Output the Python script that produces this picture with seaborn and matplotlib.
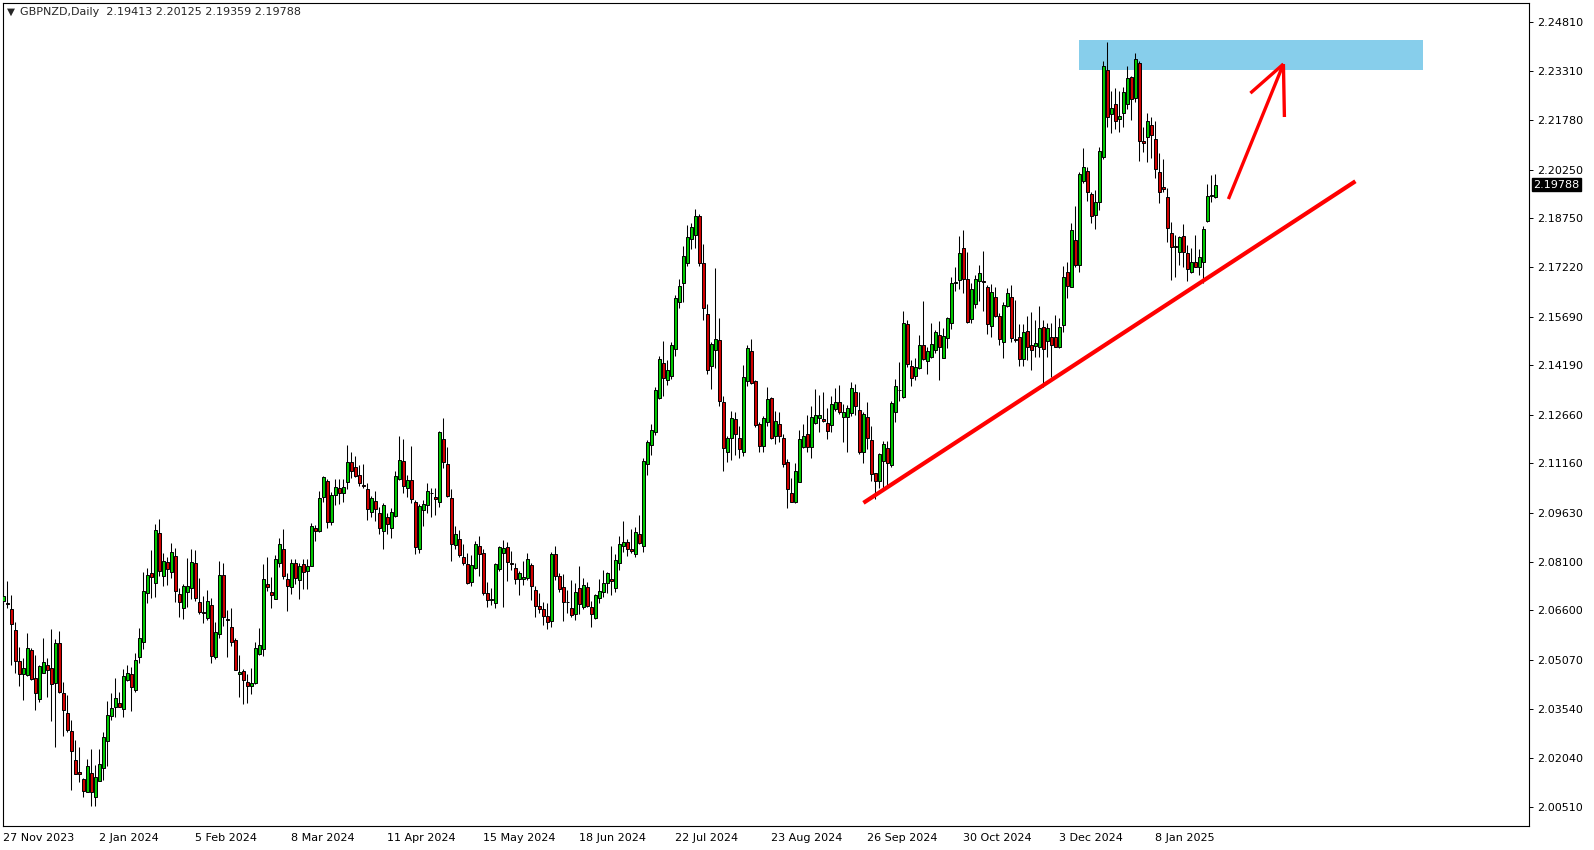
import matplotlib
matplotlib.use("Agg")
import matplotlib.pyplot as plt
import matplotlib.transforms as mtransforms
from matplotlib.patches import Rectangle
import numpy as np
import seaborn as sns

sns.set_style("white")
plt.rcParams["font.family"] = ["DejaVu Sans"]

SYMBOL = "GBPNZD,Daily"

# daily OHLC, one value per bar, oldest first
bar_open = [
    2.0690, 2.0682, 2.0663, 2.0599, 2.0503, 2.0464, 2.0459, 2.0537, 2.0451, 2.0384,
    2.0465, 2.0490, 2.0481, 2.0434, 2.0558, 2.0403, 2.0341, 2.0287, 2.0197, 2.0159,
    2.0137, 2.0097, 2.0156, 2.0081, 2.0132, 2.0171, 2.0255, 2.0334, 2.0361, 2.0374,
    2.0354, 2.0444, 2.0462, 2.0412, 2.0515, 2.0563, 2.0713, 2.0775, 2.0744, 2.0899,
    2.0768, 2.0809, 2.0778, 2.0828, 2.0710, 2.0666, 2.0716, 2.0728, 2.0807, 2.0685,
    2.0654, 2.0635, 2.0676, 2.0515, 2.0586, 2.0769, 2.0632, 2.0609, 2.0567, 2.0462,
    2.0472, 2.0438, 2.0425, 2.0434, 2.0526, 2.0540, 2.0741, 2.0717, 2.0696, 2.0806,
    2.0849, 2.0756, 2.0732, 2.0806, 2.0755, 2.0803, 2.0781, 2.0797, 2.0914, 2.0907,
    2.1010, 2.1061, 2.0933, 2.1016, 2.1038, 2.1023, 2.1057, 2.1119, 2.1103, 2.1078,
    2.1048, 2.1035, 2.0964, 2.0998, 2.0961, 2.0905, 2.0948, 2.0914, 2.0952, 2.1066,
    2.1122, 2.1038, 2.1064, 2.0995, 2.0849, 2.0971, 2.0987, 2.1025, 2.1010, 2.0995,
    2.1190, 2.1112, 2.1007, 2.0861, 2.0880, 2.0825, 2.0803, 2.0748, 2.0790, 2.0859,
    2.0837, 2.0713, 2.0693, 2.0682, 2.0789, 2.0839, 2.0856, 2.0808, 2.0790, 2.0756,
    2.0756, 2.0760, 2.0801, 2.0722, 2.0674, 2.0664, 2.0642, 2.0626, 2.0834, 2.0767,
    2.0732, 2.0687, 2.0667, 2.0648, 2.0729, 2.0670, 2.0732, 2.0670, 2.0636, 2.0698,
    2.0716, 2.0746, 2.0756, 2.0729, 2.0806, 2.0860, 2.0871, 2.0849, 2.0834, 2.0897,
    2.0858, 2.1113, 2.1171, 2.1211, 2.1319, 2.1425, 2.1374, 2.1387, 2.1468, 2.1616,
    2.1675, 2.1735, 2.1809, 2.1822, 2.1882, 2.1735, 2.1577, 2.1418, 2.1465, 2.1498,
    2.1305, 2.1149, 2.1195, 2.1252, 2.1193, 2.1149, 2.1371, 2.1463, 2.1371, 2.1237,
    2.1170, 2.1243, 2.1317, 2.1201, 2.1237, 2.1193, 2.1119, 2.1023, 2.0995, 2.1059,
    2.1167, 2.1205, 2.1167, 2.1240, 2.1257, 2.1252, 2.1240, 2.1234, 2.1284, 2.1305,
    2.1258, 2.1258, 2.1271, 2.1336, 2.1281, 2.1150, 2.1258, 2.1188, 2.1085, 2.1061,
    2.1123, 2.1164, 2.1109, 2.1274, 2.1341, 2.1320, 2.1546, 2.1417, 2.1387, 2.1412,
    2.1482, 2.1431, 2.1446, 2.1467, 2.1512, 2.1443, 2.1503, 2.1549, 2.1675, 2.1683,
    2.1781, 2.1687, 2.1562, 2.1609, 2.1680, 2.1680, 2.1661, 2.1541, 2.1630, 2.1572,
    2.1492, 2.1603, 2.1630, 2.1500, 2.1506, 2.1438, 2.1525, 2.1482, 2.1479, 2.1475,
    2.1539, 2.1495, 2.1508, 2.1506, 2.1477, 2.1544, 2.1707, 2.1663, 2.1807, 2.1730,
    2.1991, 2.2022, 2.1949, 2.1883, 2.1924, 2.2063, 2.2334, 2.2196, 2.2227, 2.2181,
    2.2200, 2.2228, 2.2311, 2.2246, 2.2354, 2.2114, 2.2125, 2.2163, 2.2120, 2.2017,
    2.1970, 2.1939, 2.1828, 2.1786, 2.1769, 2.1821, 2.1766, 2.1709, 2.1738, 2.1725,
    2.1740, 2.1867, 2.1944, 2.19413,
]

bar_high = [
    2.0787, 2.0751, 2.0708, 2.0625, 2.0546, 2.0512, 2.0590, 2.0544, 2.0522, 2.0491,
    2.0575, 2.0512, 2.0603, 2.0571, 2.0596, 2.0437, 2.0398, 2.0321, 2.0259, 2.0237,
    2.0140, 2.0200, 2.0230, 2.0181, 2.0230, 2.0282, 2.0379, 2.0403, 2.0452, 2.0408,
    2.0478, 2.0491, 2.0486, 2.0528, 2.0606, 2.0778, 2.0791, 2.0847, 2.0929, 2.0943,
    2.0839, 2.0826, 2.0869, 2.0853, 2.0730, 2.0742, 2.0821, 2.0850, 2.0847, 2.0761,
    2.0705, 2.0723, 2.0699, 2.0624, 2.0813, 2.0806, 2.0661, 2.0666, 2.0574, 2.0522,
    2.0479, 2.0463, 2.0481, 2.0563, 2.0605, 2.0804, 2.0825, 2.0762, 2.0830, 2.0883,
    2.0911, 2.0775, 2.0819, 2.0818, 2.0807, 2.0818, 2.0818, 2.0930, 2.0925, 2.1030,
    2.1076, 2.1066, 2.1028, 2.1067, 2.1067, 2.1066, 2.1172, 2.1151, 2.1138, 2.1110,
    2.1113, 2.1054, 2.1014, 2.1030, 2.0979, 2.0994, 2.0963, 2.0976, 2.1093, 2.1200,
    2.1190, 2.1079, 2.1169, 2.1002, 2.0990, 2.1002, 2.1054, 2.1038, 2.1038, 2.1215,
    2.1256, 2.1166, 2.1036, 2.0922, 2.0909, 2.0866, 2.0837, 2.0832, 2.0875, 2.0891,
    2.0850, 2.0748, 2.0729, 2.0808, 2.0860, 2.0878, 2.0871, 2.0844, 2.0806, 2.0782,
    2.0813, 2.0838, 2.0806, 2.0734, 2.0715, 2.0686, 2.0682, 2.0842, 2.0858, 2.0775,
    2.0773, 2.0723, 2.0755, 2.0746, 2.0798, 2.0760, 2.0749, 2.0690, 2.0711, 2.0758,
    2.0786, 2.0780, 2.0858, 2.0835, 2.0891, 2.0937, 2.0881, 2.0911, 2.0918, 2.0956,
    2.1131, 2.1188, 2.1238, 2.1351, 2.1448, 2.1495, 2.1434, 2.1492, 2.1637, 2.1687,
    2.1787, 2.1854, 2.1859, 2.1903, 2.1888, 2.1795, 2.1609, 2.1492, 2.1720, 2.1565,
    2.1324, 2.1200, 2.1278, 2.1275, 2.1231, 2.1420, 2.1482, 2.1501, 2.1374, 2.1242,
    2.1262, 2.1351, 2.1322, 2.1278, 2.1274, 2.1207, 2.1129, 2.1069, 2.1116, 2.1219,
    2.1236, 2.1264, 2.1293, 2.1346, 2.1326, 2.1337, 2.1286, 2.1324, 2.1349, 2.1358,
    2.1298, 2.1295, 2.1367, 2.1361, 2.1336, 2.1273, 2.1305, 2.1232, 2.1087, 2.1147,
    2.1186, 2.1185, 2.1309, 2.1377, 2.1428, 2.1587, 2.1560, 2.1436, 2.1441, 2.1513,
    2.1619, 2.1477, 2.1551, 2.1529, 2.1557, 2.1534, 2.1568, 2.1692, 2.1725, 2.1818,
    2.1838, 2.1771, 2.1673, 2.1699, 2.1730, 2.1773, 2.1668, 2.1670, 2.1663, 2.1580,
    2.1616, 2.1658, 2.1668, 2.1621, 2.1547, 2.1547, 2.1572, 2.1585, 2.1560, 2.1604,
    2.1560, 2.1549, 2.1551, 2.1575, 2.1565, 2.1727, 2.1740, 2.1861, 2.1912, 2.2019,
    2.2091, 2.2034, 2.1957, 2.1962, 2.2096, 2.2360, 2.2421, 2.2269, 2.2279, 2.2269,
    2.2280, 2.2346, 2.2315, 2.2387, 2.2361, 2.2158, 2.2200, 2.2187, 2.2176, 2.2076,
    2.2058, 2.1967, 2.1862, 2.1823, 2.1821, 2.1857, 2.1792, 2.1782, 2.1823, 2.1778,
    2.1849, 2.1981, 2.2007, 2.20125,
]

bar_low = [
    2.0677, 2.0667, 2.0491, 2.0467, 2.0427, 2.0381, 2.0457, 2.0445, 2.0353, 2.0377,
    2.0465, 2.0391, 2.0316, 2.0238, 2.0405, 2.0272, 2.0284, 2.0103, 2.0152, 2.0128,
    2.0081, 2.0096, 2.0053, 2.0053, 2.0131, 2.0135, 2.0178, 2.0321, 2.0331, 2.0362,
    2.0329, 2.0442, 2.0347, 2.0408, 2.0498, 2.0541, 2.0682, 2.0697, 2.0701, 2.0765,
    2.0734, 2.0740, 2.0761, 2.0687, 2.0638, 2.0632, 2.0672, 2.0694, 2.0689, 2.0648,
    2.0622, 2.0631, 2.0498, 2.0509, 2.0574, 2.0613, 2.0517, 2.0551, 2.0474, 2.0393,
    2.0369, 2.0372, 2.0400, 2.0432, 2.0523, 2.0520, 2.0721, 2.0668, 2.0694, 2.0793,
    2.0757, 2.0659, 2.0710, 2.0741, 2.0695, 2.0727, 2.0725, 2.0796, 2.0876, 2.0904,
    2.0996, 2.0914, 2.0923, 2.0987, 2.0989, 2.0997, 2.1035, 2.1069, 2.1072, 2.1046,
    2.1038, 2.0940, 2.0950, 2.0938, 2.0897, 2.0851, 2.0898, 2.0885, 2.0950, 2.1064,
    2.1025, 2.1010, 2.0992, 2.0834, 2.0837, 2.0920, 2.0961, 2.0948, 2.0954, 2.0981,
    2.1102, 2.1012, 2.0814, 2.0849, 2.0826, 2.0799, 2.0742, 2.0736, 2.0787, 2.0767,
    2.0709, 2.0670, 2.0676, 2.0666, 2.0783, 2.0672, 2.0751, 2.0785, 2.0742, 2.0708,
    2.0739, 2.0754, 2.0692, 2.0641, 2.0651, 2.0615, 2.0602, 2.0607, 2.0754, 2.0718,
    2.0628, 2.0651, 2.0641, 2.0629, 2.0649, 2.0664, 2.0670, 2.0607, 2.0634, 2.0684,
    2.0701, 2.0715, 2.0708, 2.0718, 2.0784, 2.0842, 2.0827, 2.0839, 2.0824, 2.0865,
    2.0842, 2.1080, 2.1140, 2.1204, 2.1315, 2.1324, 2.1358, 2.1378, 2.1449, 2.1596,
    2.1616, 2.1727, 2.1780, 2.1781, 2.1728, 2.1558, 2.1393, 2.1347, 2.1412, 2.1294,
    2.1092, 2.1118, 2.1126, 2.1142, 2.1133, 2.1139, 2.1356, 2.1360, 2.1229, 2.1150,
    2.1152, 2.1231, 2.1191, 2.1176, 2.1183, 2.1105, 2.0976, 2.0995, 2.0992, 2.1057,
    2.1163, 2.1152, 2.1133, 2.1236, 2.1211, 2.1242, 2.1190, 2.1211, 2.1279, 2.1268,
    2.1180, 2.1149, 2.1262, 2.1265, 2.1145, 2.1116, 2.1159, 2.1061, 2.1004, 2.1040,
    2.1040, 2.1038, 2.1103, 2.1242, 2.1307, 2.1317, 2.1415, 2.1356, 2.1375, 2.1407,
    2.1436, 2.1391, 2.1443, 2.1458, 2.1374, 2.1441, 2.1472, 2.1531, 2.1649, 2.1654,
    2.1644, 2.1551, 2.1549, 2.1598, 2.1618, 2.1588, 2.1516, 2.1508, 2.1570, 2.1482,
    2.1443, 2.1601, 2.1492, 2.1490, 2.1418, 2.1418, 2.1436, 2.1403, 2.1446, 2.1446,
    2.1353, 2.1446, 2.1384, 2.1477, 2.1472, 2.1523, 2.1629, 2.1661, 2.1723, 2.1709,
    2.1985, 2.1928, 2.1859, 2.1840, 2.1900, 2.2058, 2.2156, 2.2140, 2.2151, 2.2143,
    2.2158, 2.2213, 2.2179, 2.2236, 2.2053, 2.2081, 2.2050, 2.2062, 2.1998, 2.1921,
    2.1957, 2.1802, 2.1684, 2.1692, 2.1730, 2.1725, 2.1681, 2.1706, 2.1723, 2.1699,
    2.1673, 2.1864, 2.1926, 2.19359,
]

bar_close = [
    2.0703, 2.0680, 2.0617, 2.0504, 2.0462, 2.0481, 2.0543, 2.0447, 2.0403, 2.0488,
    2.0499, 2.0476, 2.0431, 2.0558, 2.0406, 2.0351, 2.0288, 2.0224, 2.0153, 2.0153,
    2.0100, 2.0177, 2.0097, 2.0143, 2.0184, 2.0267, 2.0336, 2.0357, 2.0388, 2.0362,
    2.0457, 2.0465, 2.0424, 2.0507, 2.0573, 2.0720, 2.0770, 2.0762, 2.0909, 2.0782,
    2.0813, 2.0787, 2.0840, 2.0719, 2.0687, 2.0735, 2.0736, 2.0810, 2.0697, 2.0654,
    2.0651, 2.0688, 2.0520, 2.0592, 2.0769, 2.0641, 2.0629, 2.0563, 2.0475, 2.0468,
    2.0444, 2.0427, 2.0434, 2.0543, 2.0553, 2.0756, 2.0732, 2.0709, 2.0818, 2.0865,
    2.0765, 2.0734, 2.0806, 2.0760, 2.0797, 2.0778, 2.0797, 2.0922, 2.0905, 2.1007,
    2.1072, 2.0933, 2.1016, 2.1041, 2.1023, 2.1041, 2.1119, 2.1091, 2.1075, 2.1056,
    2.1046, 2.0973, 2.1007, 2.0973, 2.0914, 2.0986, 2.0926, 2.0964, 2.1075, 2.1125,
    2.1044, 2.1064, 2.1004, 2.0856, 2.0982, 2.0989, 2.1029, 2.1023, 2.1006, 2.1213,
    2.1118, 2.1015, 2.0865, 2.0896, 2.0832, 2.0808, 2.0746, 2.0801, 2.0865, 2.0834,
    2.0715, 2.0691, 2.0696, 2.0803, 2.0856, 2.0852, 2.0811, 2.0803, 2.0756, 2.0775,
    2.0763, 2.0818, 2.0734, 2.0675, 2.0665, 2.0644, 2.0623, 2.0835, 2.0768, 2.0726,
    2.0685, 2.0686, 2.0646, 2.0716, 2.0679, 2.0738, 2.0674, 2.0648, 2.0707, 2.0720,
    2.0744, 2.0775, 2.0752, 2.0817, 2.0865, 2.0871, 2.0850, 2.0844, 2.0902, 2.0868,
    2.1123, 2.1181, 2.1219, 2.1343, 2.1438, 2.1379, 2.1404, 2.1482, 2.1627, 2.1664,
    2.1757, 2.1817, 2.1846, 2.1882, 2.1735, 2.1596, 2.1404, 2.1485, 2.1500, 2.1310,
    2.1164, 2.1193, 2.1255, 2.1205, 2.1159, 2.1382, 2.1472, 2.1363, 2.1234, 2.1170,
    2.1255, 2.1315, 2.1193, 2.1245, 2.1201, 2.1114, 2.1035, 2.0997, 2.1092, 2.1190,
    2.1201, 2.1167, 2.1258, 2.1266, 2.1264, 2.1245, 2.1217, 2.1298, 2.1305, 2.1274,
    2.1274, 2.1286, 2.1348, 2.1294, 2.1152, 2.1269, 2.1193, 2.1082, 2.1061, 2.1144,
    2.1175, 2.1116, 2.1303, 2.1355, 2.1343, 2.1549, 2.1422, 2.1379, 2.1414, 2.1482,
    2.1438, 2.1464, 2.1485, 2.1521, 2.1477, 2.1509, 2.1565, 2.1673, 2.1677, 2.1766,
    2.1685, 2.1552, 2.1654, 2.1685, 2.1704, 2.1677, 2.1546, 2.1645, 2.1572, 2.1500,
    2.1606, 2.1642, 2.1503, 2.1496, 2.1438, 2.1521, 2.1475, 2.1465, 2.1487, 2.1534,
    2.1469, 2.1534, 2.1482, 2.1477, 2.1537, 2.1694, 2.1666, 2.1838, 2.1730, 2.2012,
    2.2032, 2.1957, 2.1880, 2.1924, 2.2084, 2.2346, 2.2189, 2.2215, 2.2177, 2.2191,
    2.2264, 2.2308, 2.2243, 2.2367, 2.2115, 2.2107, 2.2176, 2.2131, 2.2026, 2.1955,
    2.1964, 2.1844, 2.1785, 2.1789, 2.1816, 2.1771, 2.1718, 2.1738, 2.1725, 2.1754,
    2.1841, 2.1944, 2.1947, 2.19788,
]

# time axis labels, one every 24 bars
date_labels = [
    "27 Nov 2023", "2 Jan 2024", "5 Feb 2024", "8 Mar 2024", "11 Apr 2024",
    "15 May 2024", "18 Jun 2024", "22 Jul 2024", "23 Aug 2024", "26 Sep 2024",
    "30 Oct 2024", "3 Dec 2024", "8 Jan 2025",
]
LABEL_STEP = 24

price_ticks = [
    2.24810, 2.23310, 2.21780, 2.20250, 2.18750, 2.17220, 2.15690, 2.14190,
    2.12660, 2.11160, 2.09630, 2.08100, 2.06600, 2.05070, 2.03540, 2.02040, 2.00510,
]

# drawn objects: (bar, price)
zone_bars = (268.9, 354.8)
zone_prices = (2.2334, 2.2427)
trend_start = (215.0, 2.0993)
trend_end = (338.0, 2.1989)
arrow_tail = (306.25, 2.1934)
arrow_tip = (320.0, 2.2352)
arrow_barb_left = (311.75, 2.2262)
arrow_barb_down = (320.25, 2.2188)

BULL = "#00c800"
BEAR = "#d00000"

W, H = 1594, 850
fig = plt.figure(figsize=(W / 100, H / 100), dpi=100)
ax = fig.add_axes([3 / W, (H - 826) / H, 1526 / W, 823 / H])

o = np.array(bar_open)
hi = np.array(bar_high)
lo = np.array(bar_low)
c = np.array(bar_close)
idx = np.arange(len(c))

# zone behind candles
ax.add_patch(Rectangle((zone_bars[0], zone_prices[0]), zone_bars[1] - zone_bars[0],
                       zone_prices[1] - zone_prices[0], facecolor="#87ceeb",
                       edgecolor="none", zorder=1))

ax.vlines(idx, lo, hi, color="black", linewidth=0.75, zorder=2)
body_low = np.minimum(o, c)
body_h = np.abs(c - o)
colors = [BULL if cc >= oo else BEAR for oo, cc in zip(o, c)]
ax.bar(idx, body_h, bottom=body_low, width=0.72, color=colors,
       edgecolor="black", linewidth=0.7, zorder=3)

# trend line and arrow
ax.plot([trend_start[0], trend_end[0]], [trend_start[1], trend_end[1]],
        color="#ff0000", linewidth=3.0, solid_capstyle="butt", zorder=4)
for p in (arrow_tail, arrow_barb_left, arrow_barb_down):
    ax.plot([p[0], arrow_tip[0]], [p[1], arrow_tip[1]], color="#ff0000",
            linewidth=2.4, solid_capstyle="butt", zorder=4)

ax.set_xlim(-0.125, 381.4)
ax.set_ylim(1.99922, 2.25411)

ax.yaxis.tick_right()
ax.set_yticks(price_ticks)
ax.set_yticklabels([f"{v:.5f}" for v in price_ticks])
ax.set_xticks([i * LABEL_STEP for i in range(len(date_labels))])
ax.set_xticklabels(date_labels)
for lbl in ax.get_xticklabels():
    lbl.set_horizontalalignment("left")
ax.tick_params(axis="both", direction="out", length=3, width=0.7, colors="black",
               labelsize=8, pad=2)
ax.tick_params(axis="y", pad=3)

for side in ("left", "right", "top", "bottom"):
    ax.spines[side].set_visible(True)
    ax.spines[side].set_color("black")
    ax.spines[side].set_linewidth(0.8)

# last price tag on the price scale
trans = mtransforms.blended_transform_factory(ax.transAxes, ax.transData)
ax.text(1.0028, c[-1], f"{c[-1]:.5f}", transform=trans, color="white",
        fontsize=8, va="center", ha="left", zorder=6, clip_on=False,
        bbox=dict(boxstyle="square,pad=0.15", facecolor="black", edgecolor="black"))

# header
fig.text(7 / W, 1 - 12 / H, "\u25bc", fontsize=7.5, va="center", ha="left")
fig.text(20 / W, 1 - 12 / H,
         f"{SYMBOL}  {o[-1]:.5f} {hi[-1]:.5f} {lo[-1]:.5f} {c[-1]:.5f}",
         fontsize=8, va="center", ha="left")

fig.savefig("out.png", dpi=100, facecolor="white")
